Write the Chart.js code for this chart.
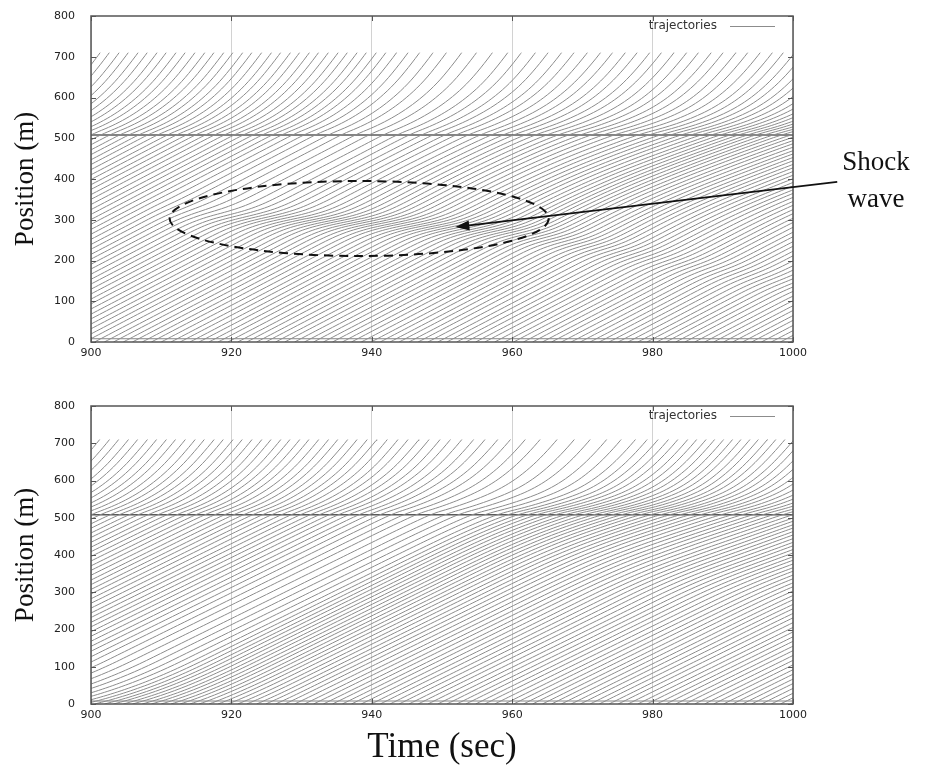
<!DOCTYPE html>
<html>
<head>
<meta charset="utf-8">
<script src="https://cdn.jsdelivr.net/npm/chart.js@4.4.0/dist/chart.umd.min.js"></script>
<style>
  body { margin: 0; background: #fff; width: 929px; height: 772px; position: relative; overflow: hidden; }
  canvas { position: absolute; left: 0; }
  #top { top: 0; }
  #bottom { top: 386px; }
  #shock-label {
    position: absolute; left: 836px; top: 143px; width: 80px;
    font: 27px "Liberation Serif", serif; line-height: 37px; text-align: center; color: #111;
  }
</style>
</head>
<body>
<canvas id="top" width="929" height="386"></canvas>
<canvas id="bottom" width="929" height="386"></canvas>
<div id="shock-label">Shock<br>wave</div>
<script>
// axes
const timeTicks = [900, 920, 940, 960, 980, 1000];
const positionTicks = [0, 100, 200, 300, 400, 500, 600, 700, 800];

const gridTimes = [890, 900, 910, 920, 930, 940, 950, 960, 970, 980, 990, 1000];
const gridPositions = [0, 60, 120, 200, 280, 360, 440, 500, 520, 560, 610, 660, 720];

const speedTop = [
  [9, 9, 9, 9, 9, 9, 9, 9, 9, 9, 9, 9],
  [9, 9, 9, 9, 9, 9, 9, 9, 9, 9, 9, 9],
  [9, 9, 9, 9, 9, 9, 9, 9, 9, 9, 9, 9],
  [9, 9, 9, 9, 9, 9, 9, 9, 9, 9, 9, 9],
  [9, 9, 9, 9, 9, 9, 9, 9, 9, 9, 8.8, 8.8],
  [9, 9, 9, 9, 9, 9, 9, 8.5, 8, 7.5, 7, 7],
  [9, 9, 9, 9, 9, 9, 8.5, 8, 7, 6.5, 6.5, 6.5],
  [9, 9, 9, 9, 9, 9, 8.5, 7.5, 6.5, 6, 6, 6],
  [7, 7, 7, 7, 7, 7, 6.5, 6, 5, 4.5, 4.5, 4.5],
  [11, 11, 11, 11, 11, 11, 10, 9, 8.5, 8, 8, 8],
  [16, 16, 16, 16, 16, 16, 15, 14, 14, 14, 14, 14],
  [21, 21, 21, 21, 21, 21, 21, 20, 19, 19, 19, 19],
  [24, 24, 24, 24, 24, 24, 24, 24, 23, 23, 23, 23]
];

const speedBottom = [
  [9, 4.5, 5.5, 7.5, 9, 9.3, 9.3, 9.3, 9.3, 9.3, 9.3, 9.3],
  [9, 7, 7.5, 8.5, 9.3, 9.3, 9.3, 9.3, 9.3, 9.3, 9.3, 9.3],
  [9.3, 9.3, 9.3, 9.3, 9.3, 9.3, 9.3, 9.3, 9.3, 9.3, 9.3, 9.3],
  [9.3, 9.3, 9.3, 9.3, 9.3, 9.3, 9.3, 9.3, 9.3, 9.3, 9.3, 9.3],
  [9.3, 9.3, 9.3, 9.3, 9.3, 9.3, 9.3, 9.3, 9.3, 9.3, 9, 8.8],
  [9.3, 9.3, 9.3, 9.3, 9.3, 9.3, 9.3, 9, 8.5, 7.5, 7, 7],
  [9.3, 9.3, 9.3, 9.3, 9.3, 9.3, 9, 8, 7, 6.5, 6.5, 7],
  [9, 9, 9, 9, 9, 9, 8.5, 7, 6, 6, 6, 6.5],
  [7, 7, 7, 7, 7, 6.5, 5.5, 4.5, 4, 4, 4.5, 5],
  [11, 11, 11, 11, 11, 10, 9, 7.5, 7, 7.5, 8, 8.5],
  [16, 16, 16, 16, 16, 15, 14, 14, 14, 14, 15, 15],
  [21, 21, 21, 21, 21, 21, 20, 19, 19, 19, 20, 20],
  [24, 24, 24, 24, 24, 24, 24, 23, 23, 23, 23, 23]
];

// shock wave (top panel only): centre of the slow band and the speed inside it
const shockTimes = [908, 918, 930, 940, 950, 960, 970, 980, 990, 1000];
const shockPositions = [320, 310, 300, 292, 283, 270, 240, 205, 175, 145];
const shockSpeeds = [9, 4.5, 3.5, 3.5, 3.5, 4, 5, 6, 6.5, 7];
const shockWidth = 32;

// time each vehicle passes position 0
const entryTimes = [
  825.9, 827.2, 828.6, 830.0, 831.3, 832.7,
  834.0, 835.4, 836.7, 838.1, 839.4, 840.8, 842.1, 843.5, 844.9, 846.2,
  847.6, 848.9, 850.3, 851.6, 853.0, 854.4, 855.7, 857.1, 858.4, 859.8,
  861.1, 862.5, 863.9, 865.2, 866.6, 867.9, 869.3, 870.6, 872.0, 873.4,
  874.7, 876.1, 877.4, 878.8, 880.1, 881.5, 882.9, 884.2, 885.6, 886.9,
  888.3, 889.6, 891.0, 892.4, 893.7, 895.1, 896.4, 897.8, 899.1, 900.5,
  901.9, 903.2, 904.6, 905.9, 907.3, 908.6, 910.0, 911.4, 912.7, 914.1,
  915.4, 916.8, 918.1, 919.5, 920.9, 922.2, 923.6, 924.9, 926.3, 927.6,
  929.0, 930.4, 931.7, 933.1, 934.4, 935.8, 937.1, 938.5, 939.9, 941.2,
  942.6, 943.9, 945.3, 946.6, 948.0, 949.4, 950.7, 952.1, 953.4, 954.8,
  956.1, 957.5, 958.9, 960.2, 961.6, 962.9, 964.3, 965.6, 967.0, 968.4,
  969.7, 971.1, 972.4, 973.8, 975.1, 976.5, 977.9, 979.2, 980.6, 981.9,
  983.3, 984.6, 986.0, 987.4, 988.7, 990.1, 991.4, 992.8, 994.1, 995.5,
  996.9, 998.2, 999.6
];

const roadEnd = 710;
const fixedLines = [8, 508];

// ellipse and arrow marking the shock wave (data coordinates)
const ellipseCentre = [938.2, 303];
const ellipseRadii = [27, 92];
const arrowFrom = [1006.3, 393];
const arrowTo = [951.9, 282];

function interp(xs, ys, v) {
  if (v <= xs[0]) return ys[0];
  for (let i = 1; i < xs.length; i++) {
    if (v <= xs[i]) {
      const f = (v - xs[i - 1]) / (xs[i] - xs[i - 1]);
      return ys[i - 1] + (ys[i] - ys[i - 1]) * f;
    }
  }
  return ys[ys.length - 1];
}

function gridSpeed(grid, t, x) {
  const tc = Math.min(Math.max(t, gridTimes[0]), gridTimes[gridTimes.length - 1]);
  const xc = Math.min(Math.max(x, gridPositions[0]), gridPositions[gridPositions.length - 1]);
  let i = 0;
  while (i < gridTimes.length - 2 && tc > gridTimes[i + 1]) i++;
  let j = 0;
  while (j < gridPositions.length - 2 && xc > gridPositions[j + 1]) j++;
  const ft = (tc - gridTimes[i]) / (gridTimes[i + 1] - gridTimes[i]);
  const fx = (xc - gridPositions[j]) / (gridPositions[j + 1] - gridPositions[j]);
  const lo = grid[j][i] * (1 - ft) + grid[j][i + 1] * ft;
  const hi = grid[j + 1][i] * (1 - ft) + grid[j + 1][i + 1] * ft;
  return lo * (1 - fx) + hi * fx;
}

function speedAt(panel, t, x) {
  let v = gridSpeed(panel.grid, t, x);
  if (panel.shock && t >= shockTimes[0] && t <= shockTimes[shockTimes.length - 1]) {
    const xs = interp(shockTimes, shockPositions, t);
    const vs = interp(shockTimes, shockSpeeds, t);
    if (vs < v) {
      const g = Math.exp(-Math.pow((x - xs) / shockWidth, 2));
      v = v - (v - vs) * g;
    }
  }
  return Math.max(v, 0.5);
}

function trajectory(panel, t0) {
  const pts = [];
  let t = t0, x = 0, k = 0;
  const dt = 0.25;
  if (t0 >= 898) pts.push({ x: t0, y: 0 });
  while (t < 1001 && x < roadEnd) {
    const v1 = speedAt(panel, t, x);
    const v2 = speedAt(panel, t + dt / 2, x + v1 * dt / 2);
    let nt = t + dt, nx = x + v2 * dt;
    if (nx >= roadEnd) { nt = t + (roadEnd - x) / v2; nx = roadEnd; }
    t = nt; x = nx; k++;
    if (t >= 898 && (k % 2 === 0 || x >= roadEnd || t >= 1001)) pts.push({ x: t, y: x });
  }
  return pts;
}

const framePlugin = {
  id: 'frame',
  afterDatasetsDraw(chart) {
    const { ctx, chartArea: a, scales: { x, y } } = chart;
    ctx.save();
    ctx.strokeStyle = '#555';
    ctx.lineWidth = 1.5;
    ctx.strokeRect(a.left, a.top, a.right - a.left, a.bottom - a.top);
    ctx.lineWidth = 1;
    ctx.beginPath();
    timeTicks.forEach(v => {
      const px = Math.round(x.getPixelForValue(v)) + 0.5;
      ctx.moveTo(px, a.bottom); ctx.lineTo(px, a.bottom - 5);
      ctx.moveTo(px, a.top); ctx.lineTo(px, a.top + 5);
    });
    positionTicks.forEach(v => {
      const py = Math.round(y.getPixelForValue(v)) + 0.5;
      ctx.moveTo(a.left, py); ctx.lineTo(a.left + 5, py);
      ctx.moveTo(a.right, py); ctx.lineTo(a.right - 5, py);
    });
    ctx.stroke();
    // legend
    ctx.font = '12px "DejaVu Sans", sans-serif';
    ctx.fillStyle = '#333';
    ctx.textAlign = 'right';
    ctx.textBaseline = 'middle';
    ctx.fillText('trajectories', a.right - 76, a.top + 10);
    ctx.strokeStyle = '#8c8c8c';
    ctx.beginPath();
    ctx.moveTo(a.right - 63, a.top + 10.5);
    ctx.lineTo(a.right - 18, a.top + 10.5);
    ctx.stroke();
    ctx.restore();
  }
};

const shockPlugin = {
  id: 'shockMark',
  afterDatasetsDraw(chart) {
    const { ctx, scales: { x, y } } = chart;
    const cx = x.getPixelForValue(ellipseCentre[0]);
    const cy = y.getPixelForValue(ellipseCentre[1]);
    const rx = x.getPixelForValue(ellipseCentre[0] + ellipseRadii[0]) - cx;
    const ry = cy - y.getPixelForValue(ellipseCentre[1] + ellipseRadii[1]);
    ctx.save();
    ctx.strokeStyle = '#111';
    ctx.lineWidth = 2;
    ctx.setLineDash([9, 6]);
    ctx.beginPath();
    ctx.ellipse(cx, cy, rx, ry, 0, 0, Math.PI * 2);
    ctx.stroke();
    ctx.setLineDash([]);
    const x0 = x.getPixelForValue(arrowFrom[0]), y0 = y.getPixelForValue(arrowFrom[1]);
    const x1 = x.getPixelForValue(arrowTo[0]), y1 = y.getPixelForValue(arrowTo[1]);
    const ang = Math.atan2(y1 - y0, x1 - x0);
    ctx.lineWidth = 1.8;
    ctx.beginPath();
    ctx.moveTo(x0, y0);
    ctx.lineTo(x1 - 10 * Math.cos(ang), y1 - 10 * Math.sin(ang));
    ctx.stroke();
    ctx.fillStyle = '#111';
    ctx.beginPath();
    ctx.moveTo(x1, y1);
    ctx.lineTo(x1 - 14 * Math.cos(ang) + 5 * Math.sin(ang), y1 - 14 * Math.sin(ang) - 5 * Math.cos(ang));
    ctx.lineTo(x1 - 14 * Math.cos(ang) - 5 * Math.sin(ang), y1 - 14 * Math.sin(ang) + 5 * Math.cos(ang));
    ctx.closePath();
    ctx.fill();
    ctx.restore();
  }
};

const create_chart = (elem_id, panel) => {
  const datasets = entryTimes.map(t0 => ({
    data: trajectory(panel, t0),
    borderColor: '#8c8c8c',
    borderWidth: 1,
    pointRadius: 0,
    tension: 0
  }));
  fixedLines.forEach(p => datasets.push({
    data: [{ x: 900, y: p }, { x: 1000, y: p }],
    borderColor: p > 100 ? '#5a5a5a' : '#888',
    borderWidth: p > 100 ? 1.3 : 1,
    pointRadius: 0
  }));

  const tickFont = { family: '"DejaVu Sans", sans-serif', size: 11 };
  const ctx = document.getElementById(elem_id).getContext('2d');
  return new Chart(ctx, {
    type: 'line',
    data: { datasets },
    options: {
      responsive: false,
      animation: false,
      parsing: false,
      normalized: true,
      events: [],
      layout: { padding: { top: panel.padTop, right: 136, left: 0, bottom: 0 } },
      plugins: { legend: { display: false }, tooltip: { enabled: false } },
      scales: {
        x: {
          type: 'linear', min: 900, max: 1000,
          afterBuildTicks: s => { s.ticks = timeTicks.map(v => ({ value: v })); },
          afterFit: s => { s.height = panel.xHeight; },
          grid: { color: '#d2d2d2', drawTicks: false },
          border: { display: false },
          ticks: { font: tickFont, color: '#222', padding: 5, callback: v => String(v) },
          title: {
            display: panel.showTime, text: 'Time (sec)', color: '#111',
            font: { family: '"Liberation Serif", serif', size: 35 },
            padding: { top: 0, bottom: 3 }
          }
        },
        y: {
          type: 'linear', min: 0, max: 800,
          afterBuildTicks: s => { s.ticks = positionTicks.map(v => ({ value: v })); },
          afterFit: s => { s.width = 91; },
          grid: { display: false },
          border: { display: false },
          ticks: { font: tickFont, color: '#222', padding: 8, callback: v => String(v) },
          title: {
            display: true, text: 'Position (m)', color: '#111',
            font: { family: '"Liberation Serif", serif', size: 27 },
            padding: { top: 10, bottom: 0 }
          }
        }
      }
    },
    plugins: panel.shock ? [framePlugin, shockPlugin] : [framePlugin]
  });
};

create_chart('top', { grid: speedTop, shock: true, padTop: 16, xHeight: 44, showTime: false });
create_chart('bottom', { grid: speedBottom, shock: false, padTop: 20, xHeight: 68, showTime: true });
</script>
</body>
</html>
